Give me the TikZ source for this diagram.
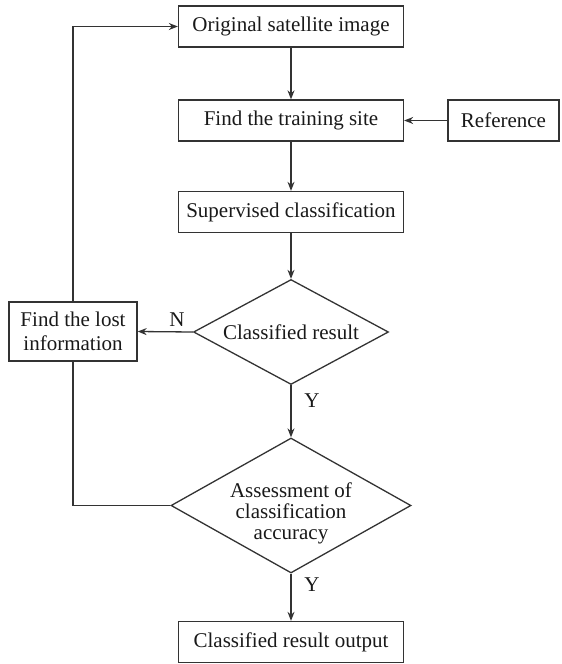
\documentclass[tikz,border=0pt]{standalone}
\usepackage{fontspec}
\setmainfont{Liberation Serif}
\usetikzlibrary{shapes.geometric,arrows.meta}
\begin{document}
\begin{tikzpicture}[x=1pt,y=-1pt,
  every node/.style={font=\fontsize{21}{25}\selectfont, text=black!90},
  stepbox/.style={draw=black!80, line width=1.3pt, rectangle, inner sep=0pt,
    minimum width=225pt, minimum height=41pt},
  decision/.style={draw=black!80, line width=1.3pt, diamond, inner sep=0pt, align=center},
  flow/.style={draw=black!80, line width=1.3pt, -{Stealth[length=9pt,width=7pt]}},
  plain/.style={draw=black!80, line width=1.3pt},
  tag/.style={inner sep=0pt}
]
\useasboundingbox (0,0) rectangle (562,664);

% main column
\node[stepbox] (orig) at (291,26.5) {Original satellite image};
\node[stepbox] (train) at (291,120.5) {Find the training site};
\node[stepbox, minimum width=111pt] (ref) at (503.5,120.5) {Reference};
\node[stepbox] (sup) at (291,212) {Supervised classification};
\node[decision, aspect=1.857, minimum width=195pt, minimum height=105pt] (dec1)
  at (291,332) {Classified result};
\node[decision, aspect=1.78, minimum width=240pt, minimum height=135pt] (dec2)
  at (291,505.5) {};
\node[tag, align=center, font=\fontsize{21}{21}\selectfont] (dec2text) at (291,513)
  {Assessment of\\classification\\accuracy};
\node[stepbox] (out) at (291,642) {Classified result output};

% feedback branch
\node[stepbox, minimum width=128pt, minimum height=59pt, align=center,
  font=\fontsize{21}{24.5}\selectfont] (lost) at (73,331.5)
  {Find the lost\\information};

% connectors
\draw[flow] (orig) -- (train);
\draw[flow] (ref) -- (train);
\draw[flow] (train) -- (sup);
\draw[flow] (sup) -- (dec1);
\draw[flow] (dec1.west) -- (lost.east);
\draw[flow] (dec1.south) -- (dec2.north);
\draw[flow] (dec2.south) -- (out.north);
\draw[plain] (dec2.west) -- (lost.south |- dec2.west) -- (lost.south);
\draw[flow] (lost.north) |- (orig.west);

% branch labels
\node[tag] (labN) at (177,320) {N};
\node[tag] (labY1) at (312,401) {Y};
\node[tag] (labY2) at (312,585) {Y};
\end{tikzpicture}
\end{document}
